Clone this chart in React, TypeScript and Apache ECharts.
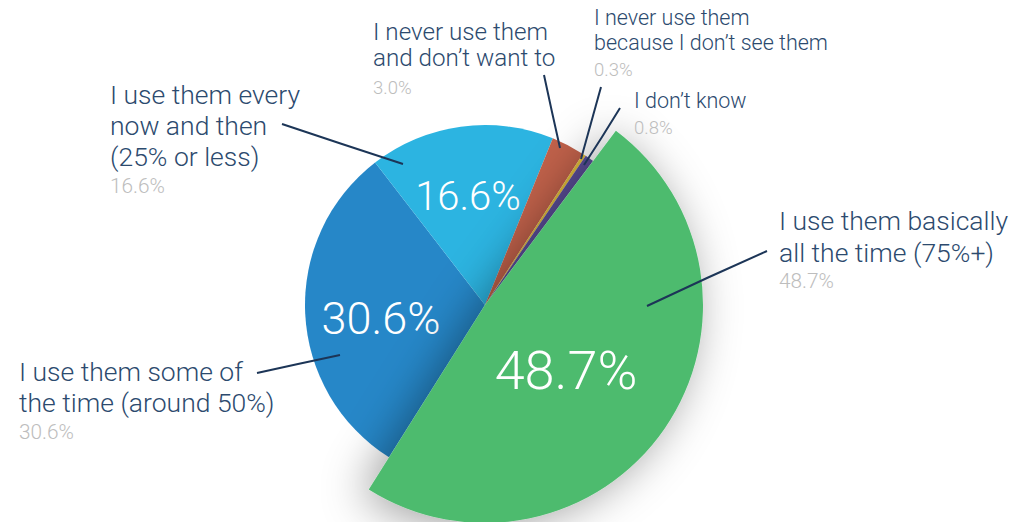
import React, { useEffect, useRef } from "react";
import * as echarts from "echarts";

// ---- data ----
const categories = [
  "I use them basically\nall the time (75%+)",
  "I use them some of\nthe time (around 50%)",
  "I use them every\nnow and then\n(25% or less)",
  "I never use them\nand don’t want to",
  "I never use them\nbecause I don’t see them",
  "I don’t know",
];
const values = [48.7, 30.6, 16.6, 3.0, 0.3, 0.8];
const colors = ["#4dbb6e", "#2687c8", "#2cb4e1", "#c0614a", "#e4bf3a", "#5d4f9c"];

// ---- layout ----
const CENTER = [485, 305];
const R_SMALL = 180;
const R_BIG = 218;
const START_ANGLE = 53.1;
const FONT = "Roboto, 'Noto Sans', sans-serif";
const NAME_COLOR = "#2c4a6e";
const VALUE_COLOR = "#bdbdbd";
const LINE_COLOR = "#1c3557";

const outerLayout = [
  { x: 779, y: 204, size: 26.5, lh: 32, vsize: 20.8, vlh: 26, line: [[647, 306], [707, 278], [767, 251]] },
  { x: 19, y: 356, size: 26.5, lh: 31, vsize: 20.8, vlh: 28, line: [[340, 355], [298, 364], [257, 373]] },
  { x: 110, y: 79, size: 26.5, lh: 31, vsize: 20.8, vlh: 28, line: [[403, 164], [342, 144], [282, 124]] },
  { x: 373, y: 19, size: 24.2, lh: 26, vsize: 18.5, vlh: 34, line: [[560, 148], [552, 112], [544, 75]] },
  { x: 594, y: 5, size: 21.5, lh: 25, vsize: 18.5, vlh: 29, line: [[581, 159], [591, 123], [601, 87]] },
  { x: 634, y: 87, size: 21.5, lh: 26, vsize: 18.5, vlh: 30, line: [[584, 165], [602, 137], [620, 108]] },
];
const innerLayout: (number[] | null)[] = [[566, 370], [381, 318], [468, 196], null, null, null];
const innerSize = [54, 45, 40, 0, 0, 0];

const fmtPct = (v: number) => `${v.toFixed(1)}%`;

export default function App() {
  const ref = useRef<HTMLDivElement>(null);
  useEffect(() => {
    if (!ref.current) return;
    const chart = echarts.init(ref.current, null, { renderer: "svg" });

    const rich: Record<string, any> = {};
    outerLayout.forEach((l, i) => {
      rich["n" + i] = { fontSize: l.size, lineHeight: l.lh, color: NAME_COLOR, fontFamily: FONT, fontWeight: 300 };
      rich["v" + i] = { fontSize: l.vsize, lineHeight: l.vlh, color: VALUE_COLOR, fontFamily: FONT, fontWeight: 300 };
    });

    const innerLabel = (i: number, show: boolean) => ({
      show,
      position: "inside",
      formatter: (p: any) => fmtPct(p.value),
      color: "#ffffff",
      fontFamily: FONT,
      fontWeight: 300,
      fontSize: innerSize[i],
    });
    const innerLayoutFn = (p: any) => {
      const pos = innerLayout[p.dataIndex];
      if (!pos) return {};
      return { x: pos[0], y: pos[1], align: "center", verticalAlign: "middle" };
    };

    const smallData = categories.map((name, i) => ({
      name,
      value: values[i],
      itemStyle: { color: i === 0 ? "transparent" : colors[i] },
      label: innerLabel(i, i === 1 || i === 2),
    }));
    const bigData = categories.map((name, i) => ({
      name,
      value: values[i],
      itemStyle:
        i === 0
          ? {
              color: colors[0],
              shadowBlur: 45,
              shadowColor: "rgba(0,0,0,0.38)",
              shadowOffsetX: -8,
              shadowOffsetY: 4,
            }
          : { color: "transparent" },
      label: innerLabel(i, i === 0),
    }));
    const labelData = categories.map((name, i) => ({
      name,
      value: values[i],
      itemStyle: { color: "transparent" },
    }));

    const common = {
      type: "pie",
      center: CENTER,
      startAngle: START_ANGLE,
      clockwise: true,
      silent: true,
      avoidLabelOverlap: false,
      emphasis: { disabled: true },
      labelLine: { show: false },
    };

    chart.setOption({
      animation: false,
      backgroundColor: "#ffffff",
      series: [
        {
          ...common,
          z: 1,
          radius: [0, R_SMALL],
          data: smallData,
          itemStyle: { borderWidth: 0 },
          labelLayout: innerLayoutFn,
        },
        {
          ...common,
          z: 2,
          radius: [0, R_BIG],
          data: bigData,
          itemStyle: { borderWidth: 0 },
          labelLayout: innerLayoutFn,
        },
        {
          ...common,
          z: 10,
          radius: [0, R_SMALL],
          data: labelData,
          itemStyle: { borderWidth: 0 },
          label: {
            show: true,
            position: "outside",
            formatter: (p: any) => {
              const i = p.dataIndex;
              const lines = String(p.name)
                .split("\n")
                .map((t: string) => `{n${i}|${t}}`)
                .join("\n");
              return `${lines}\n{v${i}|${fmtPct(p.value)}}`;
            },
            rich,
          },
          labelLine: { show: true, length: 10, length2: 10, smooth: false, lineStyle: { color: LINE_COLOR, width: 2 } },
          labelLayout: (p: any) => {
            const l = outerLayout[p.dataIndex];
            return { x: l.x, y: l.y, align: "left", verticalAlign: "top", labelLinePoints: l.line };
          },
        },
      ],
    });
    return () => chart.dispose();
  }, []);
  return (
    <div
      ref={ref}
      style={{ position: "fixed", left: 0, top: 0, width: 1031, height: 522, background: "#fff" }}
    />
  );
}
